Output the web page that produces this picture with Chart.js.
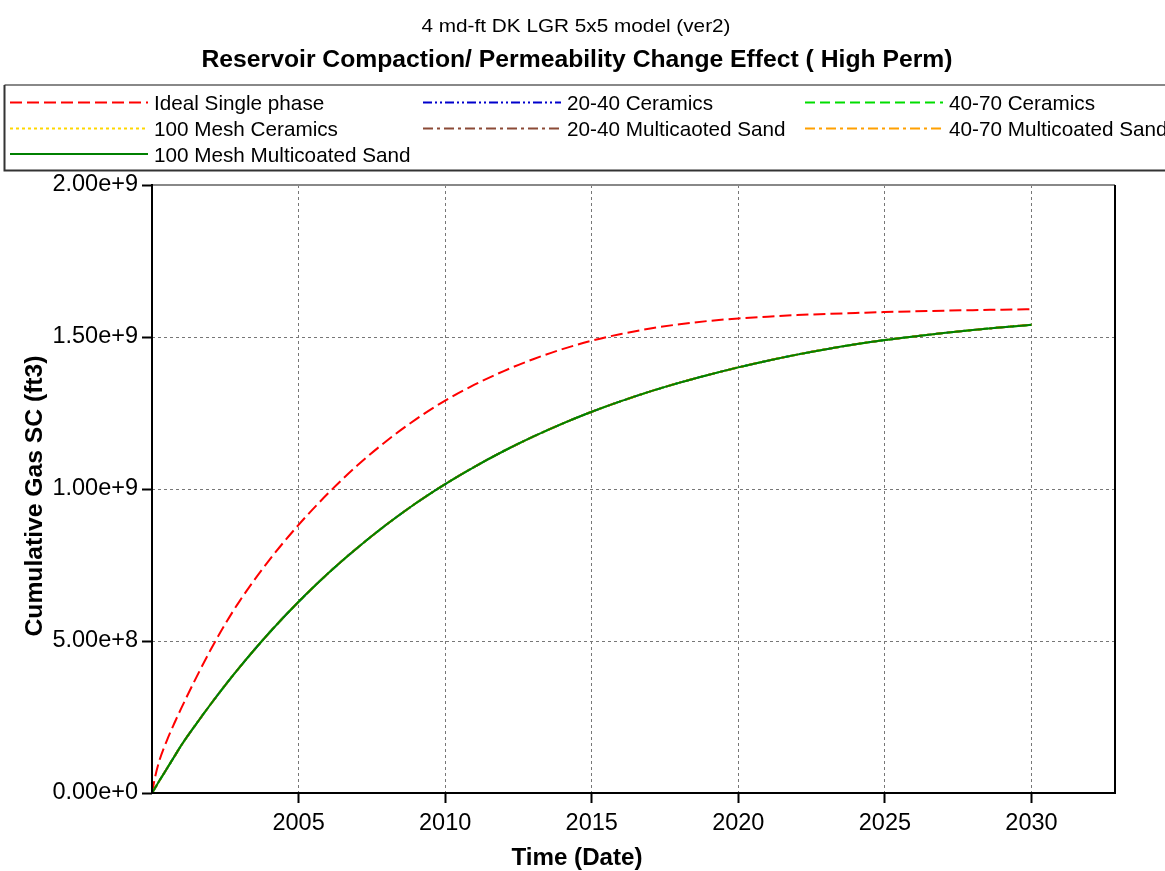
<!DOCTYPE html>
<html>
<head>
<meta charset="utf-8">
<title>Reservoir Compaction / Permeability Change Effect</title>
<script src="https://cdn.jsdelivr.net/npm/chart.js@4.4.1/dist/chart.umd.min.js"></script>
<style>
  html, body { margin: 0; padding: 0; background: #ffffff; }
  #wrap { width: 1165px; height: 871px; position: relative; }
</style>
</head>
<body>
<div id="wrap"><canvas id="chart"></canvas></div>
<script>
// Time axis in decimal years
const years = [2000, 2000.1, 2000.25, 2000.5, 2000.75, 2001, 2001.5, 2002, 2002.5, 2003, 2004,
  2005, 2006, 2007, 2008, 2009, 2010, 2011, 2012, 2013, 2014, 2015, 2016, 2017, 2018, 2019,
  2020, 2021, 2022, 2023, 2024, 2025, 2026, 2027, 2028, 2029, 2030];

// Cumulative gas at surface conditions, in units of 1e9 ft3
const idealSinglePhase = [0, 0.05, 0.106, 0.171, 0.227, 0.279, 0.378, 0.471, 0.556, 0.633, 0.766,
  0.882, 0.985, 1.077, 1.158, 1.229, 1.291, 1.343, 1.388, 1.427, 1.460, 1.488, 1.510, 1.528, 1.542, 1.553,
  1.561, 1.567, 1.572, 1.576, 1.579, 1.582, 1.5845, 1.5865, 1.5883, 1.5899, 1.5913];
const ceramics2040 = [0, 0.016, 0.04, 0.079, 0.118, 0.157, 0.226, 0.292, 0.355, 0.415, 0.527,
  0.629, 0.722, 0.806, 0.883, 0.953, 1.016, 1.073, 1.125, 1.172, 1.215, 1.254, 1.289, 1.321, 1.350, 1.376,
  1.400, 1.422, 1.442, 1.460, 1.476, 1.490, 1.502, 1.513, 1.523, 1.532, 1.540];
const ceramics4070 = [0, 0.016, 0.04, 0.079, 0.118, 0.157, 0.226, 0.292, 0.355, 0.415, 0.527,
  0.629, 0.722, 0.806, 0.883, 0.953, 1.016, 1.073, 1.125, 1.172, 1.215, 1.254, 1.289, 1.321, 1.350, 1.376,
  1.400, 1.422, 1.442, 1.460, 1.476, 1.490, 1.502, 1.513, 1.523, 1.532, 1.540];
const ceramics100Mesh = [0, 0.016, 0.04, 0.079, 0.118, 0.157, 0.226, 0.292, 0.355, 0.415, 0.527,
  0.629, 0.722, 0.806, 0.883, 0.953, 1.016, 1.073, 1.125, 1.172, 1.215, 1.254, 1.289, 1.321, 1.350, 1.376,
  1.400, 1.422, 1.442, 1.460, 1.476, 1.490, 1.502, 1.513, 1.523, 1.532, 1.540];
const sand2040 = [0, 0.016, 0.04, 0.079, 0.118, 0.157, 0.226, 0.292, 0.355, 0.415, 0.527,
  0.629, 0.722, 0.806, 0.883, 0.953, 1.016, 1.073, 1.125, 1.172, 1.215, 1.254, 1.289, 1.321, 1.350, 1.376,
  1.400, 1.422, 1.442, 1.460, 1.476, 1.490, 1.502, 1.513, 1.523, 1.532, 1.541];
const sand4070 = [0, 0.016, 0.04, 0.079, 0.118, 0.157, 0.226, 0.292, 0.355, 0.415, 0.527,
  0.629, 0.722, 0.806, 0.883, 0.953, 1.016, 1.073, 1.125, 1.172, 1.215, 1.254, 1.289, 1.321, 1.350, 1.376,
  1.400, 1.422, 1.442, 1.460, 1.476, 1.490, 1.502, 1.513, 1.523, 1.532, 1.540];
const sand100Mesh = [0, 0.016, 0.04, 0.079, 0.118, 0.157, 0.226, 0.292, 0.355, 0.415, 0.527,
  0.629, 0.722, 0.806, 0.883, 0.953, 1.016, 1.073, 1.125, 1.172, 1.215, 1.254, 1.289, 1.321, 1.350, 1.376,
  1.400, 1.422, 1.442, 1.460, 1.476, 1.490, 1.502, 1.513, 1.523, 1.532, 1.540];

const seriesNames = ['Ideal Single phase', '20-40 Ceramics', '40-70 Ceramics', '100 Mesh Ceramics',
  '20-40 Multicaoted Sand', '40-70 Multicoated Sand', '100 Mesh Multicoated Sand'];

const xTickYears = [2005, 2010, 2015, 2020, 2025, 2030];
const yTickValues = [0, 5e8, 1e9, 1.5e9, 2e9];

const FONT = '"Liberation Sans", Arial, sans-serif';

const styles = [
  { color: '#ff0000', dash: [12, 5], width: 2, order: 6 },
  { color: '#0000cc', dash: [9, 3, 2, 3, 2, 3], width: 2, order: 5 },
  { color: '#00dd00', dash: [10, 5], width: 2, order: 4 },
  { color: '#ffd700', dash: [3, 3], width: 2, order: 3 },
  { color: '#8b4a36', dash: [10, 4, 3, 4], width: 2, order: 2 },
  { color: '#ffa000', dash: [10, 4, 3, 4], width: 2, order: 1 },
  { color: '#008000', dash: [], width: 2, order: 0 }
];

const seriesValues = [idealSinglePhase, ceramics2040, ceramics4070, ceramics100Mesh, sand2040, sand4070, sand100Mesh];

const datasets = seriesValues.map((vals, i) => ({
  label: seriesNames[i],
  data: vals.map((v, k) => ({ x: years[k], y: v * 1e9 })),
  borderColor: styles[i].color,
  backgroundColor: styles[i].color,
  borderDash: styles[i].dash,
  borderWidth: styles[i].width,
  order: styles[i].order,
  pointRadius: 0,
  fill: false,
  cubicInterpolationMode: 'monotone'
}));

// Draw text stretched horizontally to a given width
function fitText(ctx, text, x, y, font, width, angle) {
  ctx.save();
  ctx.font = font;
  const natural = ctx.measureText(text).width;
  ctx.translate(x, y);
  if (angle) ctx.rotate(angle);
  ctx.scale(width / natural, 1);
  ctx.textAlign = 'center';
  ctx.textBaseline = 'alphabetic';
  ctx.fillStyle = '#000';
  ctx.fillText(text, 0, 0);
  ctx.restore();
}

const decorations = {
  id: 'decorations',
  beforeDraw(chart) {
    const ctx = chart.ctx;
    ctx.save();
    ctx.fillStyle = '#ffffff';
    ctx.fillRect(0, 0, chart.width, chart.height);
    ctx.restore();
  },
  afterDatasetsDraw(chart) {
    const ctx = chart.ctx;
    const a = chart.chartArea;
    ctx.save();
    ctx.lineWidth = 2;
    ctx.setLineDash([]);
    // top edge
    ctx.strokeStyle = '#888888';
    ctx.beginPath();
    ctx.moveTo(a.left, a.top);
    ctx.lineTo(a.right, a.top);
    ctx.stroke();
    // remaining edges
    ctx.strokeStyle = '#000000';
    ctx.beginPath();
    ctx.moveTo(a.right, a.top);
    ctx.lineTo(a.right, a.bottom);
    ctx.lineTo(a.left, a.bottom);
    ctx.lineTo(a.left, a.top - 1);
    ctx.stroke();
    ctx.restore();
  },
  afterDraw(chart) {
    const ctx = chart.ctx;
    // titles
    fitText(ctx, '4 md-ft DK LGR 5x5 model (ver2)', 576, 32, '19px ' + FONT, 309);
    fitText(ctx, 'Reservoir Compaction/ Permeability Change Effect ( High Perm)', 577, 67, 'bold 23px ' + FONT, 751);
    fitText(ctx, 'Time (Date)', 577, 865, 'bold 23px ' + FONT, 131);
    fitText(ctx, 'Cumulative Gas SC (ft3)', 42, 496, 'bold 24px ' + FONT, 281, -Math.PI / 2);

    // legend box
    ctx.save();
    ctx.lineWidth = 2;
    ctx.strokeStyle = '#888888';
    ctx.beginPath();
    ctx.moveTo(4.5, 85);
    ctx.lineTo(1170, 85);
    ctx.stroke();
    ctx.strokeStyle = '#333333';
    ctx.beginPath();
    ctx.moveTo(4.5, 85);
    ctx.lineTo(4.5, 170.5);
    ctx.lineTo(1170, 170.5);
    ctx.stroke();

    const colX = [10, 423, 805];
    const rowY = [102.5, 128.5, 154];
    chart.data.datasets.forEach((ds, i) => {
      const cx = colX[i % 3];
      const cy = rowY[Math.floor(i / 3)];
      ctx.strokeStyle = ds.borderColor;
      ctx.lineWidth = 2;
      ctx.setLineDash(ds.borderDash);
      ctx.beginPath();
      ctx.moveTo(cx, cy);
      ctx.lineTo(cx + 138, cy);
      ctx.stroke();
      ctx.setLineDash([]);
      ctx.fillStyle = '#000';
      ctx.font = '20.7px ' + FONT;
      ctx.textAlign = 'left';
      ctx.textBaseline = 'alphabetic';
      ctx.fillText(ds.label, cx + 144, cy + 7.5);
    });
    ctx.restore();
  }
};

new Chart(document.getElementById('chart'), {
  type: 'line',
  data: { datasets },
  options: {
    responsive: true,
    maintainAspectRatio: false,
    animation: false,
    layout: { padding: { top: 185, right: 50, bottom: 0, left: 0 } },
    plugins: {
      legend: { display: false },
      title: { display: false },
      tooltip: { enabled: false }
    },
    scales: {
      x: {
        type: 'linear',
        min: 2000,
        max: 2032.85,
        afterBuildTicks: s => { s.ticks = xTickYears.map(v => ({ value: v })); },
        afterFit: s => { s.height = 78; },
        grid: {
          color: '#777777', lineWidth: 1, borderDash: [3, 3],
          drawTicks: true, tickLength: 10, tickColor: '#000000', tickWidth: 2, tickBorderDash: []
        },
        border: { display: false, dash: [3, 3] },
        ticks: {
          autoSkip: false, maxRotation: 0, padding: 6, color: '#000',
          font: { family: FONT, size: 23.5 },
          callback: v => String(v)
        }
      },
      y: {
        type: 'linear',
        min: 0,
        max: 2e9,
        afterBuildTicks: s => { s.ticks = yTickValues.map(v => ({ value: v })); },
        afterFit: s => { s.width = 152; },
        grid: {
          color: '#777777', lineWidth: 1, borderDash: [3, 3],
          drawTicks: true, tickLength: 10, tickColor: '#000000', tickWidth: 2, tickBorderDash: []
        },
        border: { display: false, dash: [3, 3] },
        ticks: {
          autoSkip: false, padding: 4, color: '#000',
          font: { family: FONT, size: 23.5 },
          callback: v => Number(v).toExponential(2)
        }
      }
    }
  },
  plugins: [decorations]
});
</script>
</body>
</html>
